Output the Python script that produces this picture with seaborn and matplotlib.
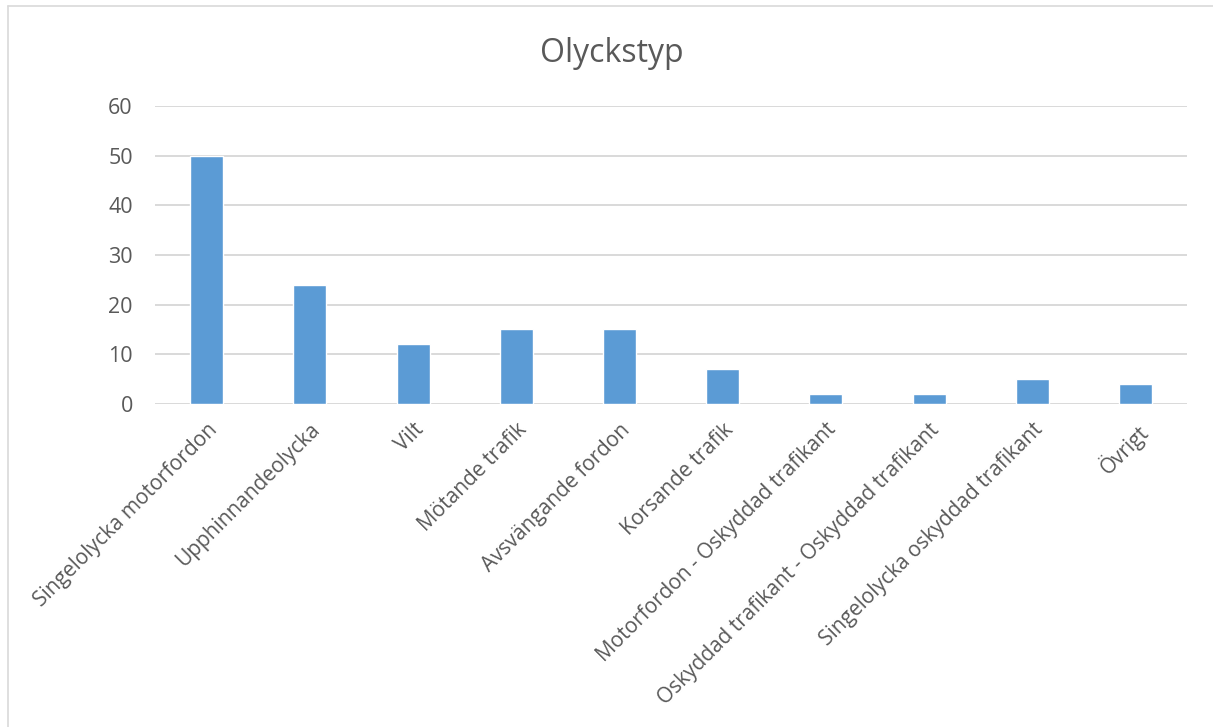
import matplotlib
matplotlib.use('Agg')
import matplotlib.pyplot as plt
import matplotlib.lines as mlines
import pandas as pd
import seaborn as sns

# Data
categories = ['Singelolycka motorfordon', 'Upphinnandeolycka', 'Vilt', 'Mötande trafik',
              'Avsvängande fordon', 'Korsande trafik', 'Motorfordon - Oskyddad trafikant',
              'Oskyddad trafikant - Oskyddad trafikant', 'Singelolycka oskyddad trafikant', 'Övrigt']
counts = [50, 24, 12, 15, 15, 7, 2, 2, 5, 4]
y_ticks = [0, 10, 20, 30, 40, 50, 60]

df = pd.DataFrame({'Olyckstyp': categories, 'Antal': counts})

sns.set_style('white')
plt.rcParams['font.family'] = ['Open Sans', 'DejaVu Sans']
text_color = '#595959'

fig = plt.figure(figsize=(12.13, 7.27), dpi=100)
ax = fig.add_axes([0.1278, 0.4443, 0.8508, 0.4099])

sns.barplot(data=df, x='Olyckstyp', y='Antal', color='#5B9BD5', width=0.32,
            saturation=1, ax=ax, zorder=3)

ax.set_ylim(0, 60)
ax.set_xlim(-0.5, len(categories) - 0.5)
ax.set_yticks(y_ticks)
ax.set_yticklabels([str(t) for t in y_ticks], fontsize=15.5, color=text_color)
ax.yaxis.grid(True, color='#D9D9D9', linewidth=1.4, zorder=0)
ax.set_axisbelow(True)
for s in ax.spines.values():
    s.set_visible(False)
ax.tick_params(axis='both', length=0)
ax.tick_params(axis='y', pad=16)
ax.set_xticks(range(len(categories)))
ax.set_xticklabels(categories, rotation=45, ha='right', rotation_mode='anchor',
                   fontsize=15, color=text_color)
ax.tick_params(axis='x', pad=11)
ax.set_xlabel('')
ax.set_ylabel('')

fig.text(0.504, 0.927, 'Olyckstyp', ha='center', va='center', fontsize=23, color=text_color)

# chart frame (top and left edges visible)
fig.add_artist(mlines.Line2D([8 / 1213, 1.0], [1 - 6 / 727, 1 - 6 / 727], color='#D9D9D9', linewidth=1.2))
fig.add_artist(mlines.Line2D([8 / 1213, 8 / 1213], [0.0, 1 - 6 / 727], color='#D9D9D9', linewidth=1.2))

fig.savefig('out.png', dpi=100, facecolor='white')
